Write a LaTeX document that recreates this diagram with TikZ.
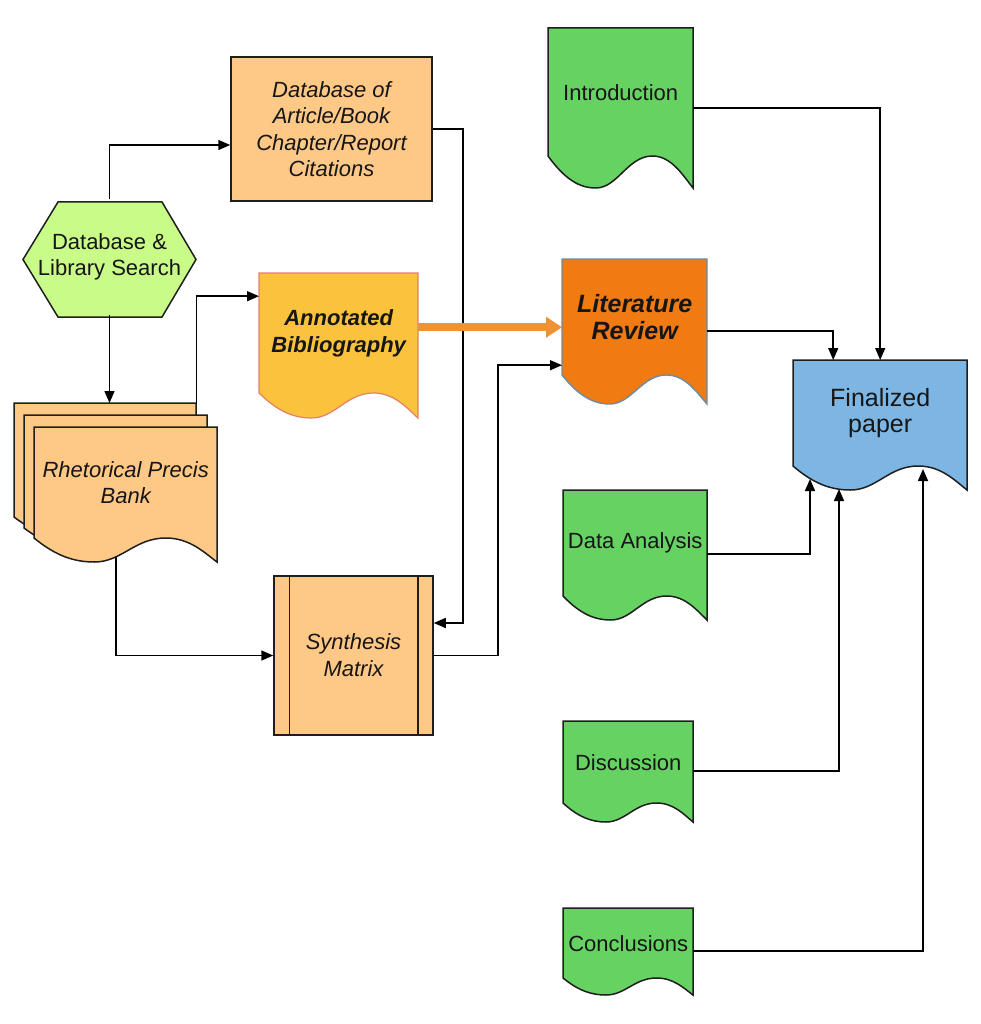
\documentclass[tikz,border=0pt]{standalone}
\usepackage{fontspec}
\setmainfont{Liberation Sans}
\usetikzlibrary{arrows.meta,calc}
\definecolor{peach}{HTML}{FEC886}
\definecolor{hexgreen}{HTML}{C9FB88}
\definecolor{gold}{HTML}{FBC23C}
\definecolor{goldline}{HTML}{E2806A}
\definecolor{litorange}{HTML}{F07B12}
\definecolor{litline}{HTML}{6A8CA8}
\definecolor{docgreen}{HTML}{66D262}
\definecolor{finblue}{HTML}{7EB6E3}
\definecolor{arrorange}{HTML}{EF9232}
\definecolor{txt}{HTML}{161616}
\definecolor{edge}{HTML}{1E1E1E}

% #1 style, #2 L, #3 T, #4 R, #5 left-bottom y, #6 wave depth
\newcommand\docshape[6]{%
  \pgfmathsetmacro\dw{#4-#2}%
  \path[#1] (#2,#3) -- (#4,#3) -- (#4,#5+#6)
    .. controls ({#2+0.93*\dw},{#5+0.6*#6}) and ({#2+0.85*\dw},#5) .. ({#2+0.72*\dw},#5)
    .. controls ({#2+0.55*\dw},#5) and ({#2+0.48*\dw},{#5+#6}) .. ({#2+0.33*\dw},{#5+#6})
    .. controls ({#2+0.22*\dw},{#5+#6}) and ({#2+0.12*\dw},{#5+0.75*#6}) .. (#2,#5) -- cycle;%
}
% #1 name, #2 L, #3 T, #4 R, #5 left-bottom y, #6 depth, #7 shape style, #8 text
\newcommand\docnode[8]{%
  \docshape{#7}{#2}{#3}{#4}{#5}{#6}%
  \pgfmathsetmacro\nw{#4-#2}\pgfmathsetmacro\nh{#5-#3}%
  \node[lbl, minimum width=\nw pt, minimum height=\nh pt, anchor=north west] (#1) at (#2,#3) {#8};%
}

\begin{document}
\begin{tikzpicture}[x=1pt,y=-1pt,
  lbl/.style={inner sep=0pt, align=center, text=txt, font=\fontsize{22}{26.5}\selectfont},
  conn/.style={draw=black, line width=1.5pt, -{Triangle[length=12pt,width=10pt]}},
  oarr/.style={draw=arrorange, line width=8pt, -{Triangle[length=16pt,width=20pt]}},
  peachbox/.style={fill=peach, draw=edge, line width=1.5pt},
  greendoc/.style={fill=docgreen, draw=edge, line width=1.5pt},
  ]
\useasboundingbox[fill=white] (0,0) rectangle (981,1024);

% Citations database
\node[peachbox, lbl, minimum width=201pt, minimum height=144pt, font=\fontsize{22}{26.5}\selectfont\itshape] (cit) at (331.5,129)
  {Database of\\Article/Book\\Chapter/Report\\Citations};

% Hexagon
\path[fill=hexgreen, draw=edge, line width=1.5pt] (58,202) -- (162,202) -- (196,259.5) -- (162,317) -- (58,317) -- (23,259.5) -- cycle;
\node[lbl, minimum width=173pt, minimum height=115pt] (hex) at (109.5,257) {Database \&\\Library Search};

% Rhetorical precis bank (stack)
\docshape{peachbox}{14}{403}{196}{517}{22}
\node[lbl, minimum width=182pt, minimum height=114pt, anchor=north west] (rpb1) at (14,403) {};
\docshape{peachbox}{24}{415}{207}{528}{22}
\node[lbl, minimum width=183pt, minimum height=113pt, anchor=north west] (rpb2) at (24,415) {};
\docnode{rpb}{34}{427}{217}{538}{24}{peachbox}{\itshape Rhetorical Precis\\\itshape Bank}
\coordinate (rpbout) at (116,557);

% Annotated bibliography
\docnode{annot}{259}{273}{418}{393}{25}{fill=gold, draw=goldline, line width=1.2pt}
  {\bfseries\itshape Annotated\\\bfseries\itshape Bibliography}

% Synthesis matrix
\node[peachbox, lbl, minimum width=159pt, minimum height=159pt, font=\fontsize{22}{27}\selectfont\itshape] (syn) at (353.5,655.5) {Synthesis\\Matrix};
\draw[edge, line width=1.5pt] ([xshift=16pt]syn.north west) -- ([xshift=16pt]syn.south west);
\draw[edge, line width=1.5pt] ([xshift=-16pt]syn.north east) -- ([xshift=-16pt]syn.south east);

% Literature review
\docnode{lit}{562}{259}{707}{375}{29}{fill=litorange, draw=litline, line width=1.4pt}
  {\fontsize{25}{30}\selectfont\bfseries\itshape Literature\\\fontsize{25}{30}\selectfont\bfseries\itshape Review}

% Green documents
\docnode{intro}{548}{28}{693}{156}{32}{greendoc}{Introduction}
\docnode{data}{563}{490}{707}{596}{24}{greendoc}{Data Analysis}
\docnode{disc}{563}{721}{693}{803}{19}{greendoc}{Discussion}
\docnode{conc}{563}{908}{693}{978}{17}{greendoc}{Conclusions}

% Finalized paper
\docnode{fin}{793}{360}{967}{466}{24}{fill=finblue, draw=edge, line width=1.5pt}
  {\fontsize{25}{31}\selectfont Finalized\\\fontsize{25}{31}\selectfont paper}
\coordinate (fin1) at (810,479);
\coordinate (fin2) at (839,489);
\coordinate (fin3) at (923,469);

% Connectors
\draw[conn] (hex.north) |- ([yshift=-16pt]cit.west);
\draw[conn] (hex.south) -- (hex.south |- rpb1.north);
\draw[conn] (rpb1.north east) |- ([yshift=37pt]annot.west);
\draw[conn] (rpbout) |- (syn.west);
\draw[conn] (cit.east) -- ++(30,0) |- ([yshift=32.5pt]syn.east);
\draw[conn] (syn.east) -- ++(64,0) |- ([yshift=-48pt]lit.west);
\coordinate (oa) at ($(annot.east)+(0,-6)$);
\draw[oarr] (oa) -- (oa -| lit.west);
\draw[conn] ([yshift=-14pt]lit.east) -| ([xshift=-47pt]fin.north);
\draw[conn] ([yshift=-16pt]intro.east) -| (fin.north);
\draw[conn] ([yshift=-11pt]data.east) -| (fin1);
\draw[conn] ([yshift=-9pt]disc.east) -| (fin2);
\draw[conn] ([yshift=-8pt]conc.east) -| (fin3);
\end{tikzpicture}
\end{document}
